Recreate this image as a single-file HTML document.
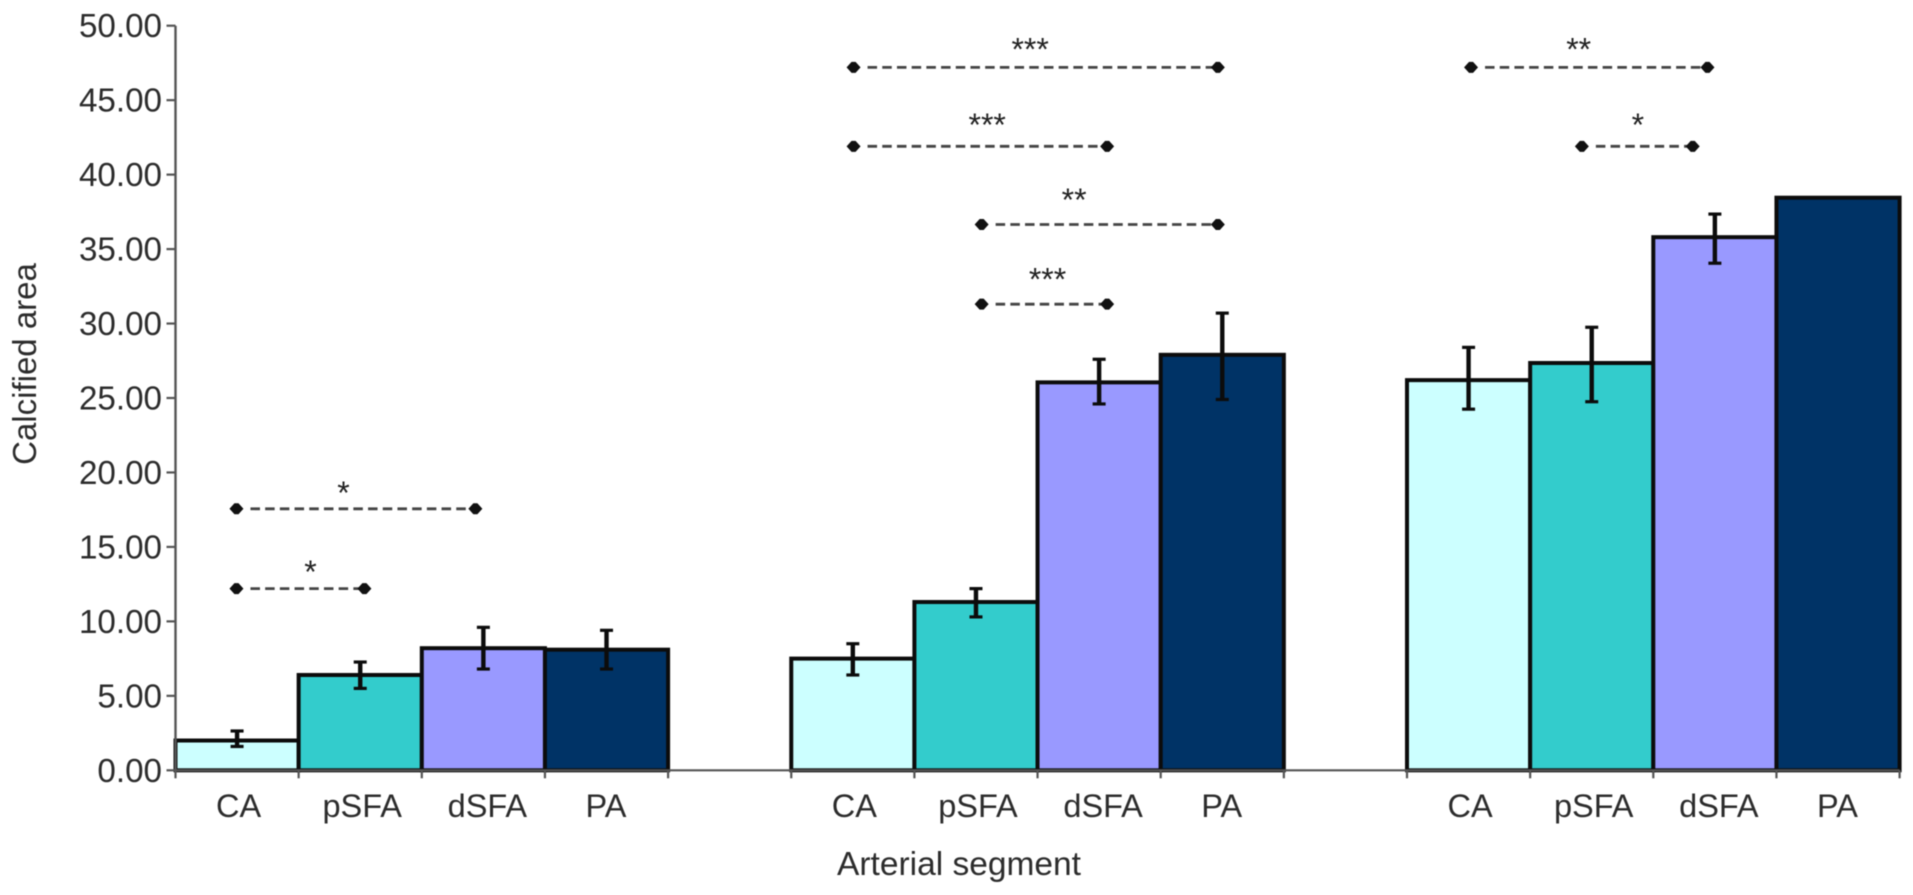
<!DOCTYPE html>
<html lang="en">
<head>
<meta charset="utf-8">
<title>Calcified area by arterial segment</title>
<style>
  html, body { margin: 0; padding: 0; background: #fff; width: 1913px; height: 895px; overflow: hidden; }
  svg { display: block; filter: blur(0.6px); }
  text { font-family: "Liberation Sans", sans-serif; fill: #2c2c2c; }
</style>
</head>
<body>
<svg id="chart" xmlns="http://www.w3.org/2000/svg" width="1913" height="895" viewBox="0 0 1913 895">
  <rect width="1913" height="895" fill="#ffffff"/>
  <text transform="translate(36 364) rotate(-90)" text-anchor="middle" font-size="33">Calcified area</text>
  <text x="959" y="875" text-anchor="middle" font-size="33.5">Arterial segment</text>
</svg>
<script>
const categories = ['CA', 'pSFA', 'dSFA', 'PA'];
const barColors = ['#ccffff', '#33cccc', '#9999ff', '#003366'];
const yTicks = [0, 5, 10, 15, 20, 25, 30, 35, 40, 45, 50];
const yTickLabels = ['0.00', '5.00', '10.00', '15.00', '20.00', '25.00', '30.00', '35.00', '40.00', '45.00', '50.00'];

const group1Values = [2.0, 6.4, 8.2, 8.1];
const group2Values = [7.5, 11.3, 26.05, 27.9];
const group3Values = [26.2, 27.35, 35.8, 38.45];
const group1Upper = [2.64, 7.27, 9.6, 9.4];
const group1Lower = [1.6, 5.5, 6.8, 6.8];
const group2Upper = [8.5, 12.2, 27.6, 30.7];
const group2Lower = [6.4, 10.3, 24.6, 24.9];
const group3Upper = [28.4, 29.75, 37.35, null];
const group3Lower = [24.25, 24.75, 34.05, null];

const bracketLevels = [17.56, 12.2, 47.2, 41.9, 36.65, 31.3, 47.2, 41.9];
const bracketFrom = [0.495, 0.495, 5.506, 5.506, 6.546, 6.546, 10.52, 11.42];
const bracketTo = [2.435, 1.534, 8.464, 7.565, 8.464, 7.565, 12.44, 12.32];
const bracketMarks = ['*', '*', '***', '***', '**', '***', '**', '*'];
const markCenters = [1.364, 1.096, 6.94, 6.591, 7.297, 7.081, 11.394, 11.875];
const markLevels = [18.96, 13.65, 48.74, 43.67, 38.64, 33.3, 48.74, 43.67];

const svg = document.getElementById('chart');
const NS = 'http://www.w3.org/2000/svg';
const axisLeft = 175.5, bandWidth = 123.15, zeroY = 770.3, topY = 25.7, axisMax = 50;
const yScale = v => zeroY - (v / axisMax) * (zeroY - topY);
const xScale = u => axisLeft + u * bandWidth;
const labelShift = { CA: 1.5, pSFA: 2, dSFA: 4, PA: -0.5 };

function make(tag, attrs, parent) {
  const el = document.createElementNS(NS, tag);
  for (const k in attrs) el.setAttribute(k, attrs[k]);
  (parent || svg).appendChild(el);
  return el;
}

const groups = [
  { start: 0, values: group1Values, upper: group1Upper, lower: group1Lower },
  { start: 5, values: group2Values, upper: group2Upper, lower: group2Lower },
  { start: 10, values: group3Values, upper: group3Upper, lower: group3Lower }
];

groups.forEach((g, gi) => {
  g.values.forEach((v, i) => {
    const u = g.start + i;
    const bar = make('rect', {
      x: xScale(u), y: yScale(v), width: bandWidth, height: zeroY - yScale(v),
      fill: barColors[i], stroke: '#0c0c0c', 'stroke-width': 4
    });
    
    
  });
});

const xAxis = make('line', { x1: axisLeft, x2: xScale(14), y1: zeroY, y2: zeroY, stroke: '#555', 'stroke-width': 2.2 });


const yAxis = make('line', { x1: axisLeft, x2: axisLeft, y1: topY, y2: zeroY, stroke: '#555', 'stroke-width': 2.4 });



yTicks.forEach((t, i) => {
  const tick = make('line', { x1: axisLeft - 9, x2: axisLeft, y1: yScale(t), y2: yScale(t), stroke: '#555', 'stroke-width': 2.2 });
  
  
  const label = make('text', { x: 162, y: yScale(t) + 11.5, 'text-anchor': 'end', 'font-size': 33.2 });
  label.textContent = yTickLabels[i];
  
  
});

groups.forEach((g, gi) => {
  for (let i = 0; i <= categories.length; i++) {
    const x = xScale(g.start + i);
    const tick = make('line', { x1: x, x2: x, y1: zeroY, y2: zeroY + 8, stroke: '#555', 'stroke-width': 2.2 });
    
    
  }
  categories.forEach((c, i) => {
    const label = make('text', {
      x: xScale(g.start + i + 0.5) + labelShift[c], y: 817,
      'text-anchor': 'middle', 'font-size': 32.5
    });
    label.textContent = c;
    
    
  });
  g.upper.forEach((hi, i) => {
    const lo = g.lower[i];
    if (hi === null || lo === null) return;
    const x = xScale(g.start + i + 0.5);
    const err = make('g', { stroke: '#0c0c0c', 'stroke-width': 4.4 });
    
    
    make('line', { x1: x, x2: x, y1: yScale(hi), y2: yScale(lo) }, err);
    make('line', { x1: x - 6.5, x2: x + 6.5, y1: yScale(hi), y2: yScale(hi), 'stroke-width': 3.2 }, err);
    make('line', { x1: x - 6.5, x2: x + 6.5, y1: yScale(lo), y2: yScale(lo), 'stroke-width': 3.2 }, err);
  });
});

bracketLevels.forEach((level, i) => {
  const y = yScale(level), x1 = xScale(bracketFrom[i]), x2 = xScale(bracketTo[i]);
  const b = make('g', {});
  
  
  make('line', { x1: x1 + 14, x2: x2 - 5, y1: y, y2: y, stroke: '#444', 'stroke-width': 2.8, 'stroke-dasharray': '9.5 5.2' }, b);
  [x1, x2].forEach(x => {
    make('path', { d: 'M' + (x - 7) + ' ' + y + 'L' + (x - 2) + ' ' + (y - 5.5) + 'L' + (x + 2) + ' ' + (y - 5.5) + 'L' + (x + 7) + ' ' + y + 'L' + (x + 2) + ' ' + (y + 5.5) + 'L' + (x - 2) + ' ' + (y + 5.5) + 'Z', fill: '#111' }, b);
  });
  const mark = make('text', {
    x: xScale(markCenters[i]), y: yScale(markLevels[i]) + 16,
    'text-anchor': 'middle', 'font-size': 32
  });
  mark.style.fill = '#222';
  mark.textContent = bracketMarks[i];
  
  
});
</script>
</body>
</html>
